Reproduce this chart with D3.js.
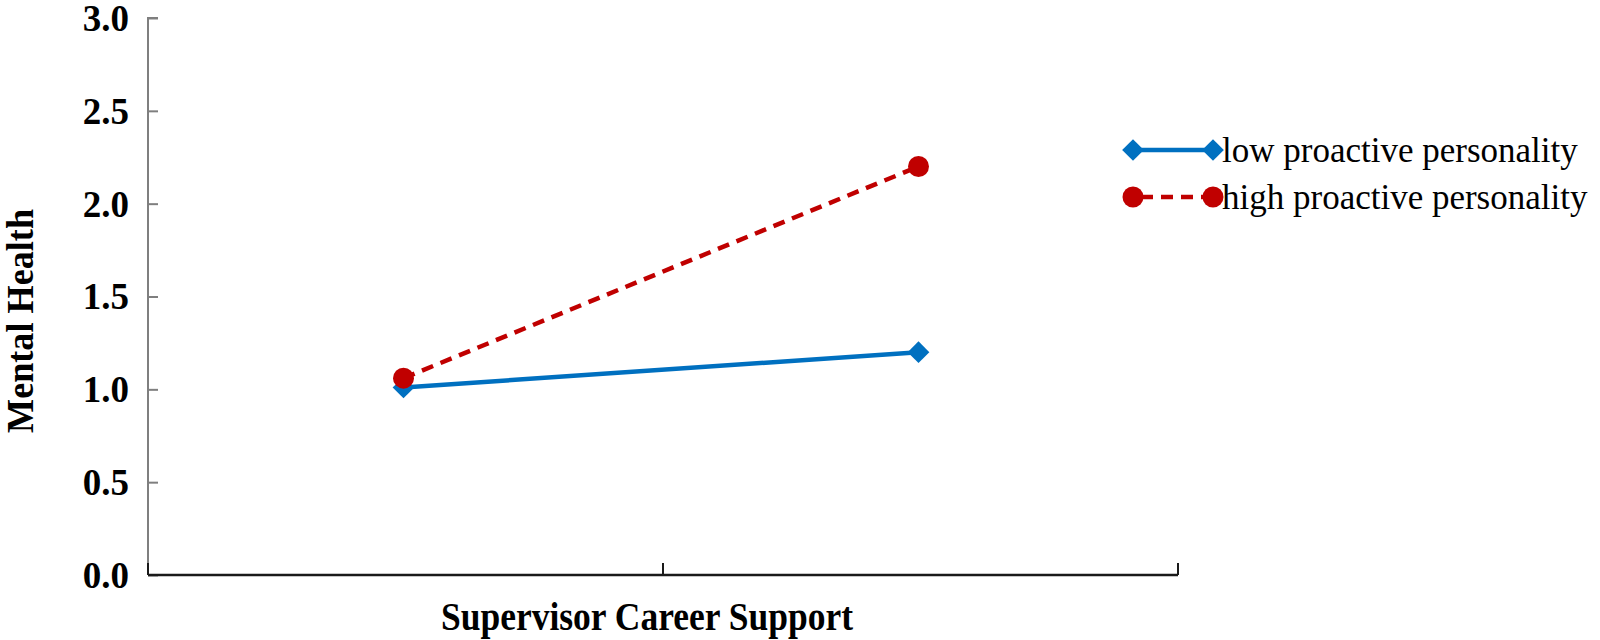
<!DOCTYPE html>
<meta charset="utf-8">
<style>
body { margin: 0; background: white; }
svg { font-family: "Liberation Serif", "Times New Roman", serif; }
</style>
<body>
<script src="https://d3js.org/d3.v7.min.js"></script>
<script>
// data
var levels = ["low", "high"];
var lowPP = [1.01, 1.20];
var highPP = [1.06, 2.20];
var yTicks = [0, 0.5, 1, 1.5, 2, 2.5, 3];
var seriesNames = ["low proactive personality", "high proactive personality"];

var width = 1600, height = 640;
var svg = d3.select("body").append("svg")
    .attr("width", width)
    .attr("height", height);

var x = d3.scaleBand().domain(levels).range([148, 1178]);
var y = d3.scaleLinear().domain([0, 3]).range([575, 18]);

// y axis (grey, ticks inside)
var yAxis = svg.append("g")
    .attr("transform", "translate(148,0)")
    .call(d3.axisRight(y).tickValues(yTicks).tickSize(10).tickFormat(""));
yAxis.select(".domain").attr("stroke", "#7f7f7f").attr("stroke-width", 2)
    .attr("d", "M10," + y(3) + "H0V" + y(0));
yAxis.selectAll(".tick line").attr("stroke", "#7f7f7f").attr("stroke-width", 2);

// tick labels
svg.selectAll("text.ylab")
  .data(yTicks)
  .enter().append("text")
    .attr("class", "ylab")
    .attr("x", 129)
    .attr("y", function(d) { return y(d); })
    .attr("dy", "0.35em")
    .attr("text-anchor", "end")
    .style("font-size", "37px")
    .style("font-weight", "bold")
    .text(function(d) { return d.toFixed(1); });

// x axis (ticks at band edges, pointing up)
var xEdges = [x.range()[0]].concat(levels.map(function(l) { return x(l) + x.bandwidth(); }));
svg.append("line")
    .attr("x1", xEdges[0]).attr("x2", xEdges[xEdges.length - 1])
    .attr("y1", y(0)).attr("y2", y(0))
    .attr("stroke", "#1a1a1a").attr("stroke-width", 2.5);
svg.selectAll("line.xtick")
  .data(xEdges)
  .enter().append("line")
    .attr("class", "xtick")
    .attr("x1", function(d) { return d; }).attr("x2", function(d) { return d; })
    .attr("y1", y(0)).attr("y2", y(0) - 12)
    .attr("stroke", "#1a1a1a").attr("stroke-width", 2);

// axis titles
svg.append("text")
    .attr("x", 647).attr("y", 630)
    .attr("text-anchor", "middle")
    .attr("textLength", 412)
    .attr("lengthAdjust", "spacingAndGlyphs")
    .style("font-size", "40px")
    .style("font-weight", "bold")
    .text("Supervisor Career Support");

svg.append("text")
    .attr("transform", "translate(33,321) rotate(-90)")
    .attr("text-anchor", "middle")
    .attr("textLength", 224)
    .attr("lengthAdjust", "spacingAndGlyphs")
    .style("font-size", "37px")
    .style("font-weight", "bold")
    .text("Mental Health");

var cx = function(d, i) { return x(levels[i]) + x.bandwidth() / 2 - 2; };
var line = d3.line().x(cx).y(function(d) { return y(d); });

var blue = "#0070C0", red = "#C00000";
var diamond = d3.symbol().type(d3.symbolDiamond2).size(300);

// low series
svg.append("path").datum(lowPP)
    .attr("d", line).attr("fill", "none")
    .attr("stroke", blue).attr("stroke-width", 4.5);
svg.selectAll("path.dlow")
  .data(lowPP)
  .enter().append("path")
    .attr("class", "dlow")
    .attr("d", diamond)
    .attr("fill", blue)
    .attr("transform", function(d, i) { return "translate(" + cx(d, i) + "," + y(d) + ")"; });

// high series
svg.append("path").datum(highPP)
    .attr("d", line).attr("fill", "none")
    .attr("stroke", red).attr("stroke-width", 4.5)
    .attr("stroke-dasharray", "12,8");
svg.selectAll("circle.dhigh")
  .data(highPP)
  .enter().append("circle")
    .attr("class", "dhigh")
    .attr("cx", cx).attr("cy", function(d) { return y(d); })
    .attr("r", 10.5)
    .attr("fill", red);

// legend
var legY = [150, 197];
var lg = svg.selectAll("g.leg")
  .data(seriesNames)
  .enter().append("g")
    .attr("class", "leg")
    .attr("transform", function(d, i) { return "translate(1133," + legY[i] + ")"; });
lg.append("line")
    .attr("x1", 0).attr("x2", 80).attr("y1", 0).attr("y2", 0)
    .attr("stroke", function(d, i) { return i ? red : blue; })
    .attr("stroke-width", 4.5)
    .attr("stroke-dasharray", function(d, i) { return i ? "12,8" : null; })
    .attr("stroke-dashoffset", function(d, i) { return i ? -8 : null; });
lg.each(function(d, i) {
  var g = d3.select(this);
  [0, 80].forEach(function(px) {
    if (i) g.append("circle").attr("cx", px).attr("cy", 0).attr("r", 10.5).attr("fill", red);
    else g.append("path").attr("d", diamond).attr("fill", blue).attr("transform", "translate(" + px + ",0)");
  });
});
lg.append("text")
    .attr("x", 89).attr("y", 0).attr("dy", "0.33em")
    .style("font-size", "35px")
    .text(function(d) { return d; });
</script>
</body>
